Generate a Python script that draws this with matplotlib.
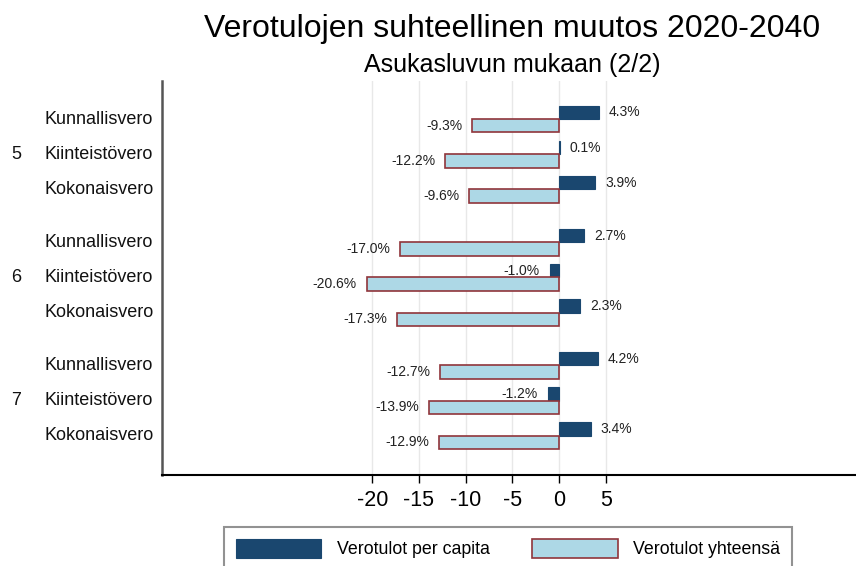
import numpy as np
import matplotlib.pyplot as plt
import matplotlib.transforms as mtransforms

plt.rcParams['font.family'] = ['Liberation Sans', 'DejaVu Sans']

groups = ['5', '6', '7']
taxes = ['Kunnallisvero', 'Kiinteistövero', 'Kokonaisvero']
per_capita = [4.3, 0.1, 3.9,
              2.7, -1.0, 2.3,
              4.2, -1.2, 3.4]
yhteensa = [-9.3, -12.2, -9.6,
            -17.0, -20.6, -17.3,
            -12.7, -13.9, -12.9]
xticks = [-20, -15, -10, -5, 0, 5]

navy = '#1a476f'
light = '#add8e6'
edge = '#90353b'

# slot positions: three taxes per group, extra gap between groups
gstep = len(taxes) + 0.5
pos = np.array([g * gstep + c for g in range(len(groups)) for c in range(len(taxes))])
bh = 0.38

fig = plt.figure(figsize=(8.56, 5.66), dpi=100)
W, H = 856, 566
ax = fig.add_axes([162 / W, 1 - 475 / H, (856 - 162) / W, (475 - 81) / H])

b1 = ax.barh(pos - bh / 2, per_capita, height=bh, color=navy,
             edgecolor=navy, linewidth=0.8, label='Verotulot per capita', zorder=3)
b2 = ax.barh(pos + bh / 2, yhteensa, height=bh, color=light,
             edgecolor=edge, linewidth=1.2, label='Verotulot yhteensä', zorder=3)

for bars, vals in ((b1, per_capita), (b2, yhteensa)):
    for rect, v in zip(bars, vals):
        yc = rect.get_y() + rect.get_height() / 2
        off = 7 if v >= 0 else -7
        ax.annotate(f'{v:.1f}%', (v, yc), xytext=(off, 0),
                    textcoords='offset points',
                    ha='left' if v >= 0 else 'right', va='center',
                    fontsize=10, color='#222222')

unit = 46.7 / 5  # pixels per x unit
ax.set_xlim((162 - 559) / unit, (856 - 559) / unit)
ax.set_ylim((475 - 119) / 35.2, (81 - 119) / 35.2)
ax.set_xticks(xticks)
ax.set_xticklabels([str(t) for t in xticks], fontsize=15.5)
ax.set_yticks([])
ax.tick_params(axis='x', length=6, width=1, pad=5, color='black')
ax.grid(axis='x', color='#e8e8e8', linewidth=1, zorder=0)
ax.set_axisbelow(True)

for s in ('top', 'right'):
    ax.spines[s].set_visible(False)
ax.spines['left'].set_color('#555555')
ax.spines['left'].set_linewidth(1.8)
ax.spines['bottom'].set_color('black')
ax.spines['bottom'].set_linewidth(1.5)

trans = mtransforms.blended_transform_factory(fig.transFigure, ax.transData)
for g, grp in enumerate(groups):
    for c, tax in enumerate(taxes):
        ax.text(45 / W, g * gstep + c, tax, transform=trans,
                ha='left', va='center', fontsize=13, color='#111111')
    ax.text(11 / W, g * gstep + 1, grp, transform=trans,
            ha='left', va='center', fontsize=13, color='#111111')

fig.text(512 / W, 1 - 37 / H, 'Verotulojen suhteellinen muutos 2020-2040',
         ha='center', va='baseline', fontsize=23)
fig.text(512 / W, 1 - 72 / H, 'Asukasluvun mukaan (2/2)',
         ha='center', va='baseline', fontsize=18)

leg = fig.legend(handles=[b1, b2], loc='upper left',
                 bbox_to_anchor=(224 / W, 1 - 527 / H),
                 ncol=2, fontsize=12.8, frameon=True,
                 fancybox=False, handlelength=4.83, handleheight=1.3,
                 handletextpad=0.85, columnspacing=2.4,
                 borderpad=0.65, borderaxespad=0)
leg.get_frame().set_edgecolor('#777777')
leg.get_frame().set_linewidth(1.5)

fig.savefig('out.png', dpi=100)
